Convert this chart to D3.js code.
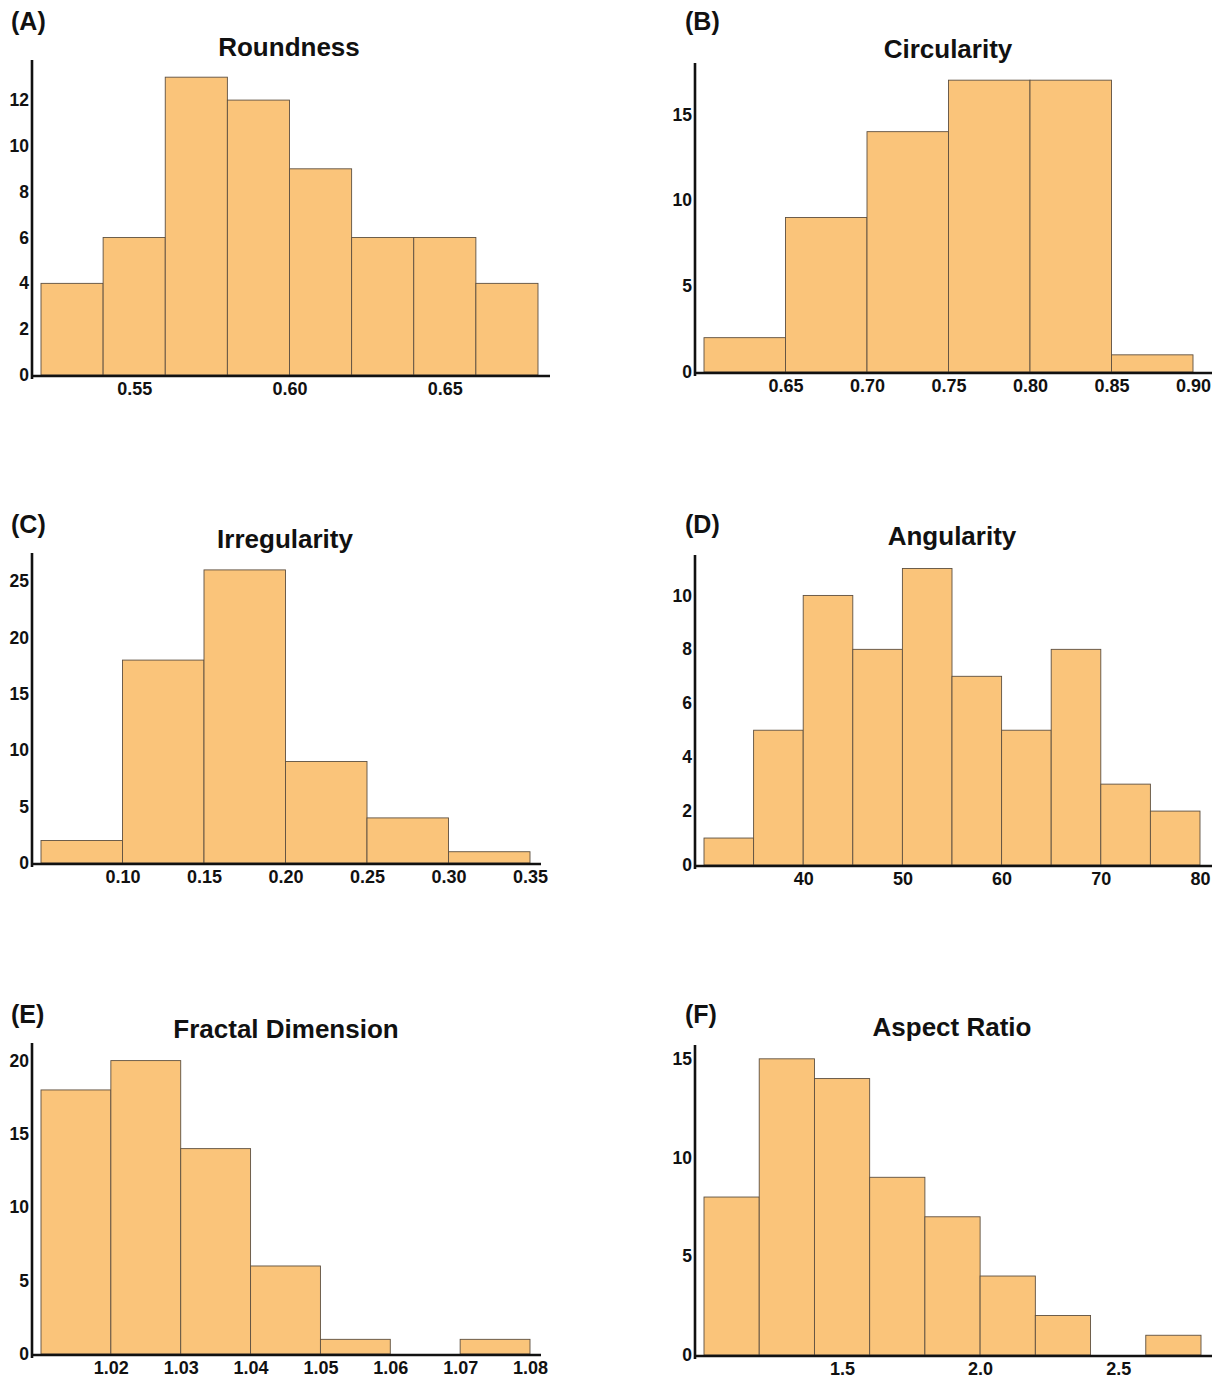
<!DOCTYPE html>
<html>
<head>
<meta charset="utf-8">
<script src="https://cdn.jsdelivr.net/npm/d3@7"></script>
<style>
  html, body { margin: 0; padding: 0; background: #fff; }
  svg { display: block; }
  text { font-family: "Liberation Sans", Arial, Helvetica, sans-serif; font-weight: bold; fill: #111; }
</style>
</head>
<body>
<svg id="chart" width="1229" height="1380"></svg>
<script>
// ---- Histogram data: bin edges, counts and axis tick labels per shape descriptor ----
const roundnessEdges  = [0.52, 0.54, 0.56, 0.58, 0.60, 0.62, 0.64, 0.66, 0.68];
const roundnessCounts = [4, 6, 13, 12, 9, 6, 6, 4];
const roundnessXTicks = [0.55, 0.60, 0.65];
const roundnessXLabels = ["0.55", "0.60", "0.65"];
const roundnessYTicks = [0, 2, 4, 6, 8, 10, 12];

const circularityEdges  = [0.60, 0.65, 0.70, 0.75, 0.80, 0.85, 0.90];
const circularityCounts = [2, 9, 14, 17, 17, 1];
const circularityXTicks = [0.65, 0.70, 0.75, 0.80, 0.85, 0.90];
const circularityXLabels = ["0.65", "0.70", "0.75", "0.80", "0.85", "0.90"];
const circularityYTicks = [0, 5, 10, 15];

const irregularityEdges  = [0.05, 0.10, 0.15, 0.20, 0.25, 0.30, 0.35];
const irregularityCounts = [2, 18, 26, 9, 4, 1];
const irregularityXTicks = [0.10, 0.15, 0.20, 0.25, 0.30, 0.35];
const irregularityXLabels = ["0.10", "0.15", "0.20", "0.25", "0.30", "0.35"];
const irregularityYTicks = [0, 5, 10, 15, 20, 25];

const angularityEdges  = [30, 35, 40, 45, 50, 55, 60, 65, 70, 75, 80];
const angularityCounts = [1, 5, 10, 8, 11, 7, 5, 8, 3, 2];
const angularityXTicks = [40, 50, 60, 70, 80];
const angularityXLabels = ["40", "50", "60", "70", "80"];
const angularityYTicks = [0, 2, 4, 6, 8, 10];

const fractalEdges  = [1.01, 1.02, 1.03, 1.04, 1.05, 1.06, 1.07, 1.08];
const fractalCounts = [18, 20, 14, 6, 1, 0, 1];
const fractalXTicks = [1.02, 1.03, 1.04, 1.05, 1.06, 1.07, 1.08];
const fractalXLabels = ["1.02", "1.03", "1.04", "1.05", "1.06", "1.07", "1.08"];
const fractalYTicks = [0, 5, 10, 15, 20];

const aspectEdges  = [1.0, 1.2, 1.4, 1.6, 1.8, 2.0, 2.2, 2.4, 2.6, 2.8];
const aspectCounts = [8, 15, 14, 9, 7, 4, 2, 0, 1];
const aspectXTicks = [1.5, 2.0, 2.5];
const aspectXLabels = ["1.5", "2.0", "2.5"];
const aspectYTicks = [0, 5, 10, 15];

const panelLetters = ["(A)", "(B)", "(C)", "(D)", "(E)", "(F)"];
const panelTitles  = ["Roundness", "Circularity", "Irregularity", "Angularity", "Fractal Dimension", "Aspect Ratio"];

// ---- Panel layout (pixel frame of each small histogram) ----
const panels = [
  { edges: roundnessEdges, counts: roundnessCounts, xTicks: roundnessXTicks, xLabels: roundnessXLabels, yTicks: roundnessYTicks,
    yMax: 13.75, axisX: 32, binLeft: 41, binRight: 538, axisEnd: 550, base: 375, top: 60,
    titleX: 289, titleY: 56, letterX: 11, letterY: 30 },
  { edges: circularityEdges, counts: circularityCounts, xTicks: circularityXTicks, xLabels: circularityXLabels, yTicks: circularityYTicks,
    yMax: 18, axisX: 695, binLeft: 704, binRight: 1193, axisEnd: 1212, base: 372, top: 63,
    titleX: 948, titleY: 58, letterX: 685, letterY: 30 },
  { edges: irregularityEdges, counts: irregularityCounts, xTicks: irregularityXTicks, xLabels: irregularityXLabels, yTicks: irregularityYTicks,
    yMax: 27.5, axisX: 32, binLeft: 41, binRight: 530, axisEnd: 541, base: 863, top: 553,
    titleX: 285, titleY: 548, letterX: 11, letterY: 533 },
  { edges: angularityEdges, counts: angularityCounts, xTicks: angularityXTicks, xLabels: angularityXLabels, yTicks: angularityYTicks,
    yMax: 11.5, axisX: 695, binLeft: 704, binRight: 1200, axisEnd: 1212, base: 865, top: 555,
    titleX: 952, titleY: 545, letterX: 685, letterY: 533 },
  { edges: fractalEdges, counts: fractalCounts, xTicks: fractalXTicks, xLabels: fractalXLabels, yTicks: fractalYTicks,
    yMax: 21.2, axisX: 32, binLeft: 41, binRight: 530, axisEnd: 541, base: 1354, top: 1043,
    titleX: 286, titleY: 1038, letterX: 11, letterY: 1023 },
  { edges: aspectEdges, counts: aspectCounts, xTicks: aspectXTicks, xLabels: aspectXLabels, yTicks: aspectYTicks,
    yMax: 15.7, axisX: 695, binLeft: 704, binRight: 1201, axisEnd: 1212, base: 1355, top: 1045,
    titleX: 952, titleY: 1036, letterX: 685, letterY: 1023 }
];

const svg = d3.select("#chart");
const barFill = "#fac47a";
const barStroke = "#5e5040";

panels.forEach((p, i) => {
  const g = svg.append("g");
  const n = p.edges.length;
  const x = d3.scaleLinear().domain([p.edges[0], p.edges[n - 1]]).range([p.binLeft, p.binRight]);
  const y = d3.scaleLinear().domain([0, p.yMax]).range([p.base, p.top]);

  const bins = p.counts.map((c, k) => ({ x0: p.edges[k], x1: p.edges[k + 1], count: c }));

  // bars
  g.selectAll("rect.bar")
    .data(bins.filter(b => b.count > 0))
    .join("rect")
    .attr("class", "bar")
    .attr("x", b => x(b.x0))
    .attr("width", b => x(b.x1) - x(b.x0))
    .attr("y", b => y(b.count))
    .attr("height", b => y(0) - y(b.count))
    .attr("fill", barFill)
    .attr("stroke", barStroke)
    .attr("stroke-width", 0.9);

  // x tick labels
  const xAxis = d3.axisBottom(x)
    .tickValues(p.xTicks)
    .tickFormat((d, k) => p.xLabels[k])
    .tickSize(0)
    .tickPadding(7);
  const gx = g.append("g").attr("transform", `translate(0,${p.base})`).call(xAxis);
  gx.select(".domain").remove();
  gx.selectAll("text").attr("font-size", 18).attr("fill", "#111");

  // y tick labels
  const yAxis = d3.axisLeft(y)
    .tickValues(p.yTicks)
    .tickSize(0)
    .tickPadding(3);
  const gy = g.append("g").attr("transform", `translate(${p.axisX},0)`).call(yAxis);
  gy.select(".domain").remove();
  gy.selectAll("text").attr("font-size", 17.5).attr("fill", "#111");

  // axis lines
  g.append("line")
    .attr("x1", p.axisX - 1).attr("x2", p.axisEnd)
    .attr("y1", p.base + 1).attr("y2", p.base + 1)
    .attr("stroke", "#111").attr("stroke-width", 2.6);
  g.append("line")
    .attr("x1", p.axisX).attr("x2", p.axisX)
    .attr("y1", p.top).attr("y2", p.base + 4)
    .attr("stroke", "#111").attr("stroke-width", 2.6);

  // titles and panel letters
  g.append("text")
    .attr("x", p.titleX).attr("y", p.titleY)
    .attr("text-anchor", "middle")
    .attr("font-size", 26)
    .text(panelTitles[i]);
  g.append("text")
    .attr("x", p.letterX).attr("y", p.letterY)
    .attr("font-size", 25)
    .text(panelLetters[i]);
});
</script>
</body>
</html>
